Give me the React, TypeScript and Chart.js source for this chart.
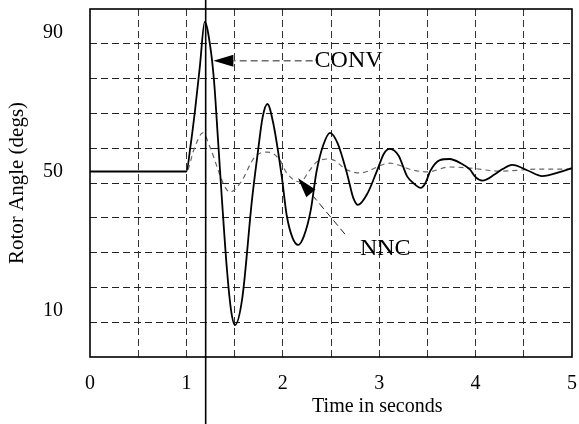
import { useEffect, useRef } from 'react';
import { Chart, registerables } from 'chart.js';

Chart.register(...registerables);

const FONT = "'Liberation Serif', 'Times New Roman', serif";

// Axis ticks / labels
const X_TICK_LABELS = [0, 1, 2, 3, 4, 5];
const X_GRID = [0.5, 1, 1.5, 2, 2.5, 3, 3.5, 4, 4.5];
const Y_TICK_LABELS = [10, 50, 90];
const Y_GRID = [6.7, 16.7, 26.7, 36.7, 46.7, 56.7, 66.7, 76.7, 86.7];
const X_MIN = 0;
const X_MAX = 5;
const Y_MIN = -3.3;
const Y_MAX = 96.7;

// CONV (solid) rotor angle
const T_CONV = [0, 1.0, 1.04, 1.09, 1.14, 1.19, 1.245, 1.286, 1.328, 1.369, 1.421, 1.463, 1.504,
  1.58, 1.68, 1.74, 1.79, 1.84, 1.9, 1.99, 2.04, 2.1, 2.16, 2.22, 2.29, 2.35, 2.42, 2.49,
  2.57, 2.67, 2.73, 2.78, 2.88, 2.98, 3.05, 3.11, 3.2, 3.29, 3.37, 3.43, 3.48, 3.53, 3.63, 3.73,
  3.85, 3.94, 4.0, 4.07, 4.2, 4.28, 4.38, 4.54, 4.69, 4.88, 5.0];
const V_CONV = [50, 50, 56.8, 67.7, 80.3, 93.0, 86.4, 76.3, 59.1, 41.8, 21.7, 10.2, 5.9,
  13.7, 41.8, 55.3, 65.5, 69.4, 64.0, 48.4, 37.5, 31.0, 28.9, 31.5, 38.9, 50.0, 57.6, 61.1,
  58.0, 49.0, 42.5, 40.4, 43.8, 50.4, 55.2, 56.5, 54.6, 48.6, 46.3, 45.3, 46.7, 50.2, 53.3, 53.6,
  52.3, 50.6, 48.4, 47.4, 49.2, 50.7, 51.9, 50.3, 48.7, 49.9, 51.0];

// NNC (dashed) rotor angle
const T_NNC = [0, 1.0, 1.08, 1.17, 1.245, 1.33, 1.39, 1.45, 1.56, 1.71, 1.84, 1.97, 2.04, 2.18,
  2.28, 2.35, 2.49, 2.67, 2.8, 3.11, 3.35, 3.5, 3.73, 3.94, 4.25, 4.67, 5.0];
const V_NNC = [50, 50, 56.5, 61.1, 57.0, 50.4, 46.1, 44.1, 46.7, 54.2, 55.6, 53.3, 49.6, 47.0,
  50.4, 52.7, 53.6, 50.4, 49.6, 52.4, 50.4, 49.9, 51.3, 51.0, 50.1, 50.7, 50.7];

// Annotations (data coordinates)
const MARKER_T = 1.2;
const CONV_NOTE = { text: 'CONV', tipT: 1.28, tipV: 81.8, tailT: 2.31, tailV: 81.8, textT: 2.33, textV: 81.8 };
const NNC_NOTE = { text: 'NNC', tipT: 2.158, tipV: 48.1, tailT: 2.645, tailV: 32.0, textT: 2.8, textV: 27.7 };

const X_TITLE = 'Time in seconds';
const X_TITLE_T = 2.98;
const Y_TITLE = 'Rotor Angle (degs)';

function drawNote(ctx: CanvasRenderingContext2D, x: any, y: any, n: any) {
  const tx = x.getPixelForValue(n.tipT);
  const ty = y.getPixelForValue(n.tipV);
  const sx = x.getPixelForValue(n.tailT);
  const sy = y.getPixelForValue(n.tailV);
  const dx = tx - sx;
  const dy = ty - sy;
  const len = Math.hypot(dx, dy);
  const ux = dx / len;
  const uy = dy / len;
  const headLen = 20;
  const hw = 6;
  const bx = tx - ux * headLen;
  const by = ty - uy * headLen;
  ctx.save();
  ctx.strokeStyle = '#222';
  ctx.lineWidth = 1;
  ctx.setLineDash([7, 4]);
  ctx.beginPath();
  ctx.moveTo(sx, sy);
  ctx.lineTo(bx, by);
  ctx.stroke();
  ctx.setLineDash([]);
  ctx.fillStyle = '#000';
  ctx.beginPath();
  ctx.moveTo(tx, ty);
  ctx.lineTo(bx - uy * hw, by + ux * hw);
  ctx.lineTo(bx + uy * hw, by - ux * hw);
  ctx.closePath();
  ctx.fill();
  ctx.font = `24px ${FONT}`;
  ctx.textAlign = 'left';
  ctx.textBaseline = 'middle';
  ctx.fillText(n.text, x.getPixelForValue(n.textT), y.getPixelForValue(n.textV));
  ctx.restore();
}

const overlayPlugin = {
  id: 'overlay',
  afterDatasetsDraw(chart: any) {
    const { ctx, chartArea: a, scales } = chart;
    const x = scales.x;
    const y = scales.y;
    ctx.save();
    ctx.strokeStyle = '#000';
    ctx.lineWidth = 1.6;
    ctx.setLineDash([]);
    ctx.strokeRect(a.left, a.top, a.right - a.left, a.bottom - a.top);
    const mx = x.getPixelForValue(MARKER_T);
    ctx.beginPath();
    ctx.moveTo(mx, 0);
    ctx.lineTo(mx, chart.height);
    ctx.stroke();
    ctx.restore();
    drawNote(ctx, x, y, CONV_NOTE);
    drawNote(ctx, x, y, NNC_NOTE);
    ctx.save();
    ctx.fillStyle = '#000';
    ctx.font = `20px ${FONT}`;
    ctx.textAlign = 'center';
    ctx.textBaseline = 'middle';
    ctx.fillText(X_TITLE, x.getPixelForValue(X_TITLE_T), a.bottom + 50);
    ctx.restore();
  },
};

export default function App() {
  const ref = useRef<HTMLCanvasElement | null>(null);
  useEffect(() => {
    if (!ref.current) return;
    const chart = new Chart(ref.current, {
      type: 'line',
      data: {
        datasets: [
          {
            label: 'CONV',
            data: T_CONV.map((t, i) => ({ x: t, y: V_CONV[i] })),
            borderColor: '#000',
            borderWidth: 1.8,
            pointRadius: 0,
            cubicInterpolationMode: 'monotone',
            fill: false,
          },
          {
            label: 'NNC',
            data: T_NNC.map((t, i) => ({ x: t, y: V_NNC[i] })),
            borderColor: '#666',
            borderWidth: 1.2,
            borderDash: [5, 4],
            pointRadius: 0,
            cubicInterpolationMode: 'monotone',
            fill: false,
          },
        ],
      },
      options: {
        animation: false,
        responsive: true,
        maintainAspectRatio: false,
        devicePixelRatio: 1,
        layout: { padding: { top: 9, right: 7, left: 0, bottom: 0 } },
        plugins: { legend: { display: false }, tooltip: { enabled: false } },
        scales: {
          x: {
            type: 'linear',
            min: X_MIN,
            max: X_MAX,
            afterBuildTicks: (s: any) => {
              const vals = Array.from(new Set([...X_TICK_LABELS, ...X_GRID])).sort((a, b) => a - b);
              s.ticks = vals.map((v) => ({ value: v }));
            },
            afterFit: (s: any) => {
              s.height = 67;
              s.paddingLeft = 0;
              s.paddingRight = 0;
            },
            ticks: {
              autoSkip: false,
              maxRotation: 0,
              padding: 15,
              color: '#000',
              font: { family: FONT, size: 20 },
              callback: (v: any) => (X_TICK_LABELS.includes(Number(v)) ? String(v) : ''),
            },
            grid: {
              drawTicks: false,
              lineWidth: 1,
              color: (c: any) => (X_GRID.includes(c.tick?.value) ? '#333' : 'rgba(0,0,0,0)'),
            },
            border: { display: false, dash: [7, 4] },
          },
          y: {
            type: 'linear',
            min: Y_MIN,
            max: Y_MAX,
            afterBuildTicks: (s: any) => {
              const vals = [...Y_TICK_LABELS, ...Y_GRID].sort((a, b) => a - b);
              s.ticks = vals.map((v) => ({ value: v }));
            },
            afterFit: (s: any) => {
              s.width = 90;
              s.paddingTop = 0;
              s.paddingBottom = 0;
            },
            ticks: {
              autoSkip: false,
              padding: 27,
              color: '#000',
              font: { family: FONT, size: 20 },
              callback: (v: any) => (Y_TICK_LABELS.includes(Number(v)) ? String(v) : ''),
            },
            grid: {
              drawTicks: false,
              lineWidth: 1,
              color: (c: any) => (Y_GRID.includes(c.tick?.value) ? '#222' : 'rgba(0,0,0,0)'),
            },
            border: { display: false, dash: [7, 4] },
            title: {
              display: true,
              text: Y_TITLE,
              color: '#000',
              font: { family: FONT, size: 21 },
              padding: { top: 5, bottom: 0 },
            },
          },
        },
      },
      plugins: [overlayPlugin],
    } as any);
    return () => chart.destroy();
  }, []);
  return (
    <div style={{ position: 'fixed', left: 0, top: 0, width: 579, height: 424, background: '#fff' }}>
      <canvas ref={ref} />
    </div>
  );
}
